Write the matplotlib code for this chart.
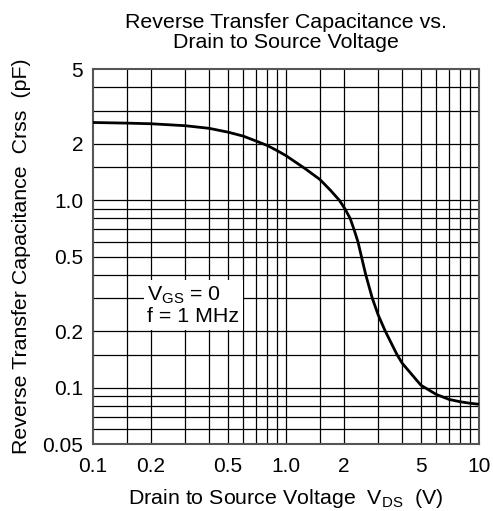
import matplotlib
matplotlib.use('Agg')
import matplotlib.pyplot as plt
from matplotlib.ticker import FixedLocator, FixedFormatter, NullLocator

plt.rcParams['font.family'] = ['Liberation Sans', 'DejaVu Sans']
plt.rcParams['mathtext.fontset'] = 'custom'
plt.rcParams['mathtext.rm'] = 'Liberation Sans'
plt.rcParams['mathtext.it'] = 'Liberation Sans'

# Data
vds = [0.1, 0.15, 0.2, 0.3, 0.4, 0.5, 0.6, 0.7, 0.8, 0.9, 1.0, 1.25, 1.5,
       1.7, 1.89, 2.02, 2.15, 2.25, 2.36, 2.46, 2.59, 2.8, 3.0, 3.27,
       3.76, 4.0, 4.5, 5.0, 6.0, 7.0, 8.0, 9.0, 10.0]
crss = [2.60, 2.58, 2.56, 2.50, 2.42, 2.31, 2.20, 2.07, 1.96, 1.84, 1.73,
        1.48, 1.29, 1.13, 1.0, 0.9, 0.8, 0.7, 0.6, 0.5, 0.4, 0.3, 0.245,
        0.20, 0.15, 0.135, 0.117, 0.103, 0.092, 0.0865, 0.084, 0.0825,
        0.0815]

x_ticks = [0.1, 0.2, 0.5, 1.0, 2, 5, 10]
x_tick_labels = ['0.1', '0.2', '0.5', '1.0', '2', '5', '10']
y_ticks = [0.05, 0.1, 0.2, 0.5, 1.0, 2, 5]
y_tick_labels = ['0.05', '0.1', '0.2', '0.5', '1.0', '2', '5']
x_grid = [0.15, 0.2, 0.3, 0.4, 0.5, 0.6, 0.7, 0.8, 0.9, 1.0,
          1.5, 2, 3, 4, 5, 6, 7, 8, 9]
y_grid = [0.06, 0.07, 0.08, 0.09, 0.1, 0.15, 0.2, 0.3, 0.4, 0.5, 0.6, 0.7,
          0.8, 0.9, 1.0, 1.5, 2, 3, 4]

title = 'Reverse Transfer Capacitance vs.\nDrain to Source Voltage'
xlabel = r'Drain to Source Voltage  $\mathregular{V_{DS}}$  (V)'
ylabel = 'Reverse Transfer Capacitance  Crss  (pF)'
note = '$\\mathregular{V_{GS}}$ = 0\nf = 1 MHz'

fig = plt.figure(figsize=(4.93, 5.11), dpi=100)
ax = fig.add_axes([0.1886, 0.1311, 0.7830, 0.7333])
ax.set_xscale('log')
ax.set_yscale('log')
ax.set_xlim(0.1, 10)
ax.set_ylim(0.05, 5)

for xv in x_grid:
    ax.axvline(xv, color='black', lw=0.9, zorder=1)
for yv in y_grid:
    ax.axhline(yv, color='black', lw=0.9, zorder=1)

ax.plot(vds, crss, color='black', lw=2.0, zorder=4, solid_capstyle='round',
        solid_joinstyle='round')

ax.xaxis.set_major_locator(FixedLocator(x_ticks))
ax.xaxis.set_major_formatter(FixedFormatter(x_tick_labels))
ax.xaxis.set_minor_locator(NullLocator())
ax.yaxis.set_major_locator(FixedLocator(y_ticks))
ax.yaxis.set_major_formatter(FixedFormatter(y_tick_labels))
ax.yaxis.set_minor_locator(NullLocator())
ax.tick_params(axis='both', length=0, labelsize=15)
ax.tick_params(axis='x', pad=9)
ax.tick_params(axis='y', pad=7)

for s in ax.spines.values():
    s.set_color('#555555')
    s.set_linewidth(1.5)

ax.text(0.14, 0.37, note, fontsize=15.4, va='center', ha='left',
        linespacing=1.1, zorder=5, transform=ax.transAxes,
        bbox=dict(facecolor='white', edgecolor='none', pad=2.5))

ax.set_title(title, fontsize=15.4, pad=15, linespacing=1.12)
ax.set_xlabel(xlabel, fontsize=15.4, labelpad=8)
ax.set_ylabel(ylabel, fontsize=15.4, labelpad=8)

fig.savefig('out.png', dpi=100)
